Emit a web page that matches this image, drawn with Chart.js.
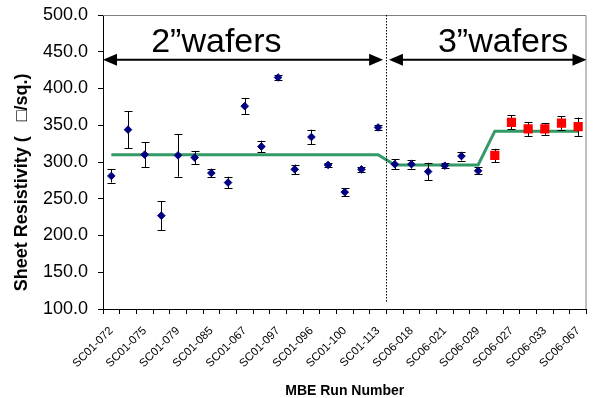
<!DOCTYPE html>
<html>
<head>
<meta charset="utf-8">
<script src="https://cdn.jsdelivr.net/npm/chart.js@4/dist/chart.umd.min.js"></script>
<style>
  body { margin: 0; background: #fff; }
</style>
</head>
<body>
<canvas id="myChart" width="593" height="398"></canvas>
<script>
// labels shown under every second run
const tickLabels = [
  "SC01-072", "SC01-075", "SC01-079", "SC01-085", "SC01-067",
  "SC01-097", "SC01-096", "SC01-100", "SC01-113", "SC06-018",
  "SC06-021", "SC06-029", "SC06-027", "SC06-033", "SC06-067",
];
const runs = [];
for (let i = 0; i < 29; i++) runs.push(i % 2 ? "" : tickLabels[i / 2]);

// blue diamonds (runs 0-22) and red squares (runs 23-28)
const blueValues = [
  281, 344, 310, 227, 309, 306, 285, 272, 376, 321, 415, 290, 334, 296, 259,
  290, 347, 297, 297, 287, 295, 308, 288, null, null, null, null, null, null,
];
const blueErrors = [
  9, 25, 17, 20, 29, 9, 6, 8, 11, 8, 3, 6.5, 10, 3, 5,
  3.5, 3.5, 6.5, 6, 12, 3.5, 6, 5, null, null, null, null, null, null,
];
const redValues = [
  null, null, null, null, null, null, null, null, null, null, null, null, null, null, null,
  null, null, null, null, null, null, null, null, 309, 354, 345, 345, 353, 348,
];
const redErrors = [
  null, null, null, null, null, null, null, null, null, null, null, null, null, null, null,
  null, null, null, null, null, null, null, null, 9, 9.5, 9.5, 8, 9, 12.5,
];
// group averages (green line)
const averages = [
  310, 310, 310, 310, 310, 310, 310, 310, 310, 310, 310, 310, 310, 310, 310,
  310, 310, 296, 296, 296, 296, 296, 296, 342, 342, 342, 342, 342, 342,
];
const yTitle = "Sheet Resistivity (   \u25A1/sq.)";

Chart.defaults.font.family = "'Liberation Sans', Arial, sans-serif";
Chart.defaults.color = "#000";

const errorBars = {
  id: "errorBars",
  afterDatasetDraw(chart, args) {
    if (args.index !== 0) return;
    const { ctx, scales: { x, y } } = chart;
    ctx.save();
    ctx.strokeStyle = "#000";
    ctx.lineWidth = 1;
    const draw = (vals, errs) => {
      vals.forEach((v, i) => {
        if (v === null) return;
        const px = Math.round(x.getPixelForValue(i)) + 0.5;
        const top = y.getPixelForValue(v + errs[i]);
        const bot = y.getPixelForValue(v - errs[i]);
        ctx.beginPath();
        ctx.moveTo(px, top); ctx.lineTo(px, bot);
        ctx.moveTo(px - 4, Math.round(top) + 0.5); ctx.lineTo(px + 4, Math.round(top) + 0.5);
        ctx.moveTo(px - 4, Math.round(bot) + 0.5); ctx.lineTo(px + 4, Math.round(bot) + 0.5);
        ctx.stroke();
      });
    };
    draw(blueValues, blueErrors);
    draw(redValues, redErrors);
    ctx.restore();
  },
};

const annotations = {
  id: "annotations",
  afterDraw(chart) {
    const { ctx, chartArea: a, scales: { x, y } } = chart;
    ctx.save();
    // frame top and right
    ctx.strokeStyle = "#808080";
    ctx.lineWidth = 1;
    ctx.beginPath();
    ctx.moveTo(a.left, a.top + 0.5); ctx.lineTo(a.right - 0.5, a.top + 0.5);
    ctx.lineTo(a.right - 0.5, a.bottom);
    ctx.stroke();

    // dotted divider
    const dx = Math.round(x.getPixelForValue(16.45)) + 0.5;
    ctx.strokeStyle = "#000";
    ctx.setLineDash([1.5, 1.5]);
    ctx.beginPath();
    ctx.moveTo(dx, y.getPixelForValue(500));
    ctx.lineTo(dx, y.getPixelForValue(109));
    ctx.stroke();
    ctx.setLineDash([]);

    // double arrows
    const ay = y.getPixelForValue(439);
    const arrow = (x1, x2) => {
      ctx.lineWidth = 2;
      ctx.beginPath();
      ctx.moveTo(x1 + 10, ay); ctx.lineTo(x2 - 10, ay);
      ctx.stroke();
      ctx.fillStyle = "#000";
      ctx.beginPath();
      ctx.moveTo(x1, ay); ctx.lineTo(x1 + 14, ay - 6); ctx.lineTo(x1 + 14, ay + 6);
      ctx.closePath(); ctx.fill();
      ctx.beginPath();
      ctx.moveTo(x2, ay); ctx.lineTo(x2 - 14, ay - 6); ctx.lineTo(x2 - 14, ay + 6);
      ctx.closePath(); ctx.fill();
    };
    arrow(x.getPixelForValue(-0.5), x.getPixelForValue(16.3));
    arrow(x.getPixelForValue(16.65), x.getPixelForValue(28.5));

    ctx.font = "34px 'Liberation Sans', Arial, sans-serif";
    ctx.textAlign = "center";
    ctx.textBaseline = "alphabetic";
    ctx.fillText("2\u201Dwafers", x.getPixelForValue(6.3), y.getPixelForValue(450));
    ctx.fillText("3\u201Dwafers", x.getPixelForValue(23.5), y.getPixelForValue(450));

    // y axis title, bottom-anchored like the original
    ctx.translate(22, y.getPixelForValue(124));
    ctx.rotate(-Math.PI / 2);
    ctx.font = "bold 18px 'Liberation Sans', Arial, sans-serif";
    ctx.textAlign = "left";
    ctx.textBaseline = "middle";
    ctx.fillText(yTitle, 0, 0);
    ctx.restore();
  },
};

const data = {
  labels: runs,
  datasets: [
    {
      label: "Average",
      data: averages,
      borderColor: "#339966",
      borderWidth: 3,
      pointRadius: 0,
      fill: false,
      order: 2,
    },
    {
      label: "2 inch",
      data: blueValues,
      showLine: false,
      pointStyle: "rectRot",
      pointRadius: 3.8,
      backgroundColor: "#000080",
      borderColor: "#000080",
      borderWidth: 1,
      order: 1,
    },
    {
      label: "3 inch",
      data: redValues,
      showLine: false,
      pointStyle: "rect",
      pointRadius: 6.5,
      backgroundColor: "#ff0000",
      borderColor: "#ff0000",
      borderWidth: 0,
      order: 0,
    },
  ],
};

const config = {
  type: "line",
  data: data,
  plugins: [errorBars, annotations],
  options: {
    responsive: false,
    animation: false,
    layout: { padding: { left: 0, top: 15, right: 2, bottom: 0 } },
    plugins: {
      legend: { display: false },
      tooltip: { enabled: false },
    },
    scales: {
      x: {
        offset: true,
        grid: {
          offset: true,
          drawOnChartArea: false,
          tickLength: 5,
          color: "#000",
        },
        border: { color: "#000", width: 1 },
        ticks: {
          autoSkip: false,
          maxRotation: 45,
          minRotation: 45,
          padding: 10,
          font: { size: 11.5 },
          color: "#000",
        },
        title: {
          display: true,
          text: "MBE Run Number",
          font: { size: 14, weight: "bold" },
          padding: { top: 0, bottom: -2 },
          color: "#000",
        },
        afterFit: (scale) => {
          scale.height = 89;
          scale.paddingLeft = 0;
          scale.paddingRight = 0;
        },
      },
      y: {
        min: 100,
        max: 500,
        grid: {
          drawOnChartArea: false,
          tickLength: 5,
          color: "#000",
        },
        border: { color: "#000", width: 1 },
        ticks: {
          stepSize: 50,
          padding: 10,
          font: { size: 18 },
          color: "#000",
          callback: (v) => v.toFixed(1),
        },
        afterFit: (scale) => {
          scale.width = 103;
          scale.paddingTop = 0;
          scale.paddingBottom = 0;
        },
      },
    },
  },
};

const myChart = new Chart(document.getElementById("myChart").getContext("2d"), config);
</script>
</body>
</html>
